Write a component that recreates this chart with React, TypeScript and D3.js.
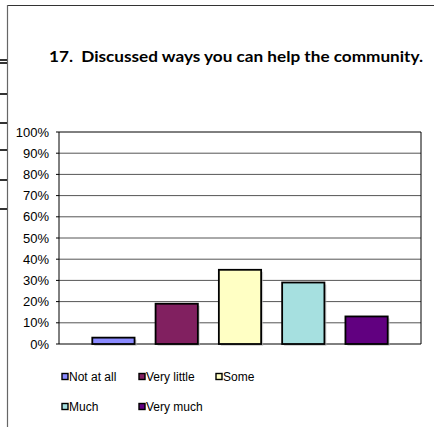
import React from "react";
import * as d3 from "d3";

const categories = ["Not at all", "Very little", "Some", "Much", "Very much"];
const values = [3, 19, 35, 29, 13];
const colors = ["#8b8bff", "#812060", "#ffffc4", "#a6e0e0", "#610080"];
const yTicks = [0, 10, 20, 30, 40, 50, 60, 70, 80, 90, 100];
const title = "17.  Discussed ways you can help the community.";
const stubYs = [60, 63, 94, 123, 150, 180, 209];

export default function App() {
  const W = 434, H = 427;
  const left = 59, right = 421, top = 132, bottom = 344;
  const y = d3.scaleLinear().domain([0, 100]).range([bottom, top]);
  const x = d3.scaleBand<string>().domain(categories).range([left, right]).paddingInner(0.332).paddingOuter(0.526);
  const legendRows = [[0, 1, 2], [3, 4]];
  const legendX = [61, 138, 215];
  const legendY = [377, 407];
  return (
    <svg width={W} height={H} style={{ position: "absolute", left: 0, top: 0 }}>
      <rect width={W} height={H} fill="#fff" />
      {/* frame */}
      <line x1={7.5} y1={5.5} x2={W} y2={5.5} stroke="#333" strokeWidth={1.2} />
      <line x1={7.5} y1={5} x2={7.5} y2={H} stroke="#666" strokeWidth={1.2} />
      {stubYs.map((s, i) => (
        <line key={i} x1={0} x2={7} y1={s} y2={s} stroke="#000" strokeWidth={1.6} />
      ))}
      <text x={49} y={62} textLength={374} lengthAdjust="spacingAndGlyphs" fontFamily="Lato, 'Open Sans', sans-serif" fontWeight="bold" fontSize={15.5} fill="#000" style={{ whiteSpace: "pre" }}>{title}</text>
      {/* gridlines */}
      {yTicks.map((t) => (
        <g key={t}>
          <line x1={left} x2={right} y1={y(t)} y2={y(t)} stroke={t === 100 || t === 0 ? "#000" : "#555"} strokeWidth={1} />
          <line x1={left - 3} x2={left} y1={y(t)} y2={y(t)} stroke="#000" />
          <text x={49} y={y(t)} dy="0.36em" textAnchor="end" fontFamily="Arial, 'Liberation Sans', sans-serif" fontSize={13} fill="#000">{t}%</text>
        </g>
      ))}
      <line x1={left} x2={left} y1={top} y2={bottom} stroke="#000" />
      <line x1={right} x2={right} y1={top} y2={bottom} stroke="#000" />
      {/* bars */}
      {categories.map((c, i) => (
        <g key={c}>
          <rect x={(x(c) as number) + 2} y={y(values[i]) + 2} width={x.bandwidth()} height={bottom - y(values[i])} fill="#bbb" opacity={0.6} />
          <rect x={x(c)} y={y(values[i])} width={x.bandwidth()} height={bottom - y(values[i])} fill={colors[i]} stroke="#000" strokeWidth={1.8} />
        </g>
      ))}
      {/* legend */}
      {legendRows.map((row, ri) =>
        row.map((idx, ci) => (
          <g key={idx} transform={`translate(${legendX[ci]},${legendY[ri]})`}>
            <rect x={1} y={-3.5} width={6} height={6} fill={colors[idx]} stroke="#000" strokeWidth={1.4} />
            <text x={8} y={0} dy="0.36em" fontFamily="Arial, 'Liberation Sans', sans-serif" fontSize={12} fill="#000">{categories[idx]}</text>
          </g>
        ))
      )}
    </svg>
  );
}
